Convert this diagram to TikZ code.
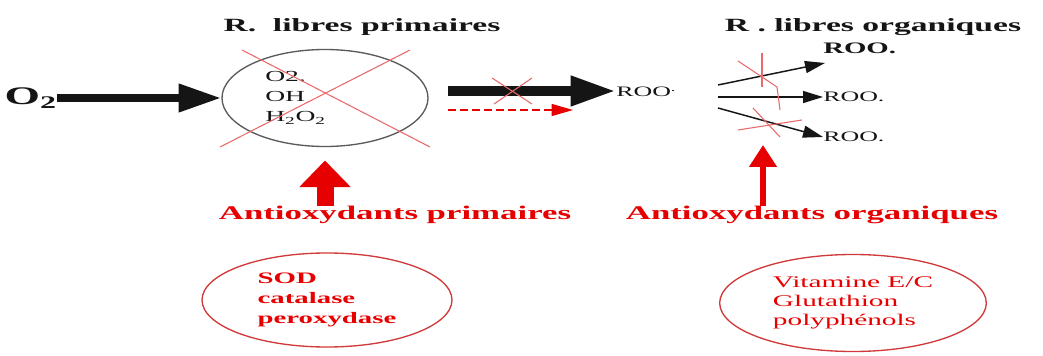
\documentclass[tikz,border=0pt]{standalone}
\usepackage{fontspec}
\setmainfont[FakeStretch=1.8]{Liberation Serif}
\usepackage{xcolor}
\usetikzlibrary{
  arrows.meta,
  shapes.geometric,
  positioning
}
\definecolor{arRed}{HTML}{E60000}
\definecolor{arCross}{HTML}{E86A6A}
\definecolor{arGray}{HTML}{5A5A5A}
\definecolor{arRing}{HTML}{D03A3A}
\definecolor{arInk}{HTML}{151515}
\tikzset{
  titletxt/.style={inner sep=0, text=arInk, font=\fontsize{14pt}{16pt}\selectfont\bfseries},
  bigtxt/.style={inner sep=0, text=arInk, font=\fontsize{19pt}{21pt}\selectfont\bfseries},
  smalltxt/.style={inner sep=0, text=arInk, align=left, font=\fontsize{11.5pt}{15pt}\selectfont},
  rootxt/.style={inner sep=0, text=arInk, font=\fontsize{10.8pt}{13pt}\selectfont},
  antitxt/.style={inner sep=0, text=arRed, font=\fontsize{14.5pt}{17pt}\selectfont\bfseries},
  radring/.style={draw=arGray, line width=1pt, ellipse, inner sep=0,
    minimum width=154.5pt, minimum height=72.75pt},
  ring/.style={draw=arRing, line width=1pt, ellipse, inner sep=0, text=arRed, align=left},
  fatblack/.style={-{Triangle[length=32pt, width=20pt]}, line width=6pt, arInk},
  thinblack/.style={-{Triangle[length=15pt, width=9pt]}, line width=1.1pt, arInk},
  xline/.style={draw=arCross, line width=0.8pt},
  reddash/.style={-{Triangle[length=16pt, width=9pt]}, dash pattern=on 6pt off 3pt, line width=0.8pt, arRed},
  redfat/.style={-{Triangle[length=20pt, width=37.5pt]}, line width=12.75pt, arRed},
  redthin/.style={-{Triangle[length=16.5pt, width=20pt]}, line width=5pt, arRed}
}

\begin{document}
\begin{tikzpicture}[x=0.75pt, y=-0.75pt]
  \useasboundingbox[fill=white] (0,0) rectangle (1043,356);

  % radicaux primaires
  \node[titletxt] (tprim) at (362,27) {R.\ \ libres primaires};
  \node[radring] (rp) at (325,98) {};
  \node[smalltxt, anchor=west] (rpin) at (265,98) {O2.\\OH\\H\textsubscript{2}O\textsubscript{2}};
  \node[bigtxt, anchor=east] (o2) at (57,98) {O\textsubscript{2}};
  \draw[fatblack] (o2) -- (rp);
  \draw[xline] (242,50) -- (430,147);
  \draw[xline] (410,50) -- (220,147);

  % passage vers ROO
  \coordinate (a2) at (448,91);
  \coordinate (d2) at (448,110);
  \coordinate (d2e) at (573,110);
  \node[rootxt, anchor=west] (roo) at (616,92) {ROO\textsuperscript{.}};
  \draw[fatblack, line width=7.5pt, -{Triangle[length=34pt, width=21pt]}] (a2) -- (roo.west |- a2);
  \draw[xline] (492,78) -- (532,104);
  \draw[xline] (494,104) -- (532,78);
  \draw[reddash] (d2) -- (d2e);

  % radicaux organiques
  \node[titletxt] (torg) at (873,27) {R . libres organiques};
  \node[titletxt, font=\fontsize{12pt}{14pt}\selectfont\bfseries, anchor=west] (rtop) at (823,48) {ROO.};
  \node[rootxt, anchor=west] (rmid) at (823,97) {ROO.};
  \node[rootxt, anchor=west] (rlow) at (823,137) {ROO.};
  \coordinate (s1) at (718,85);
  \coordinate (s2) at (718,97);
  \coordinate (s3) at (718,108);
  \coordinate (e1) at (825,63);
  \draw[thinblack] (s1) -- (e1);
  \draw[thinblack] (s2) -- (rmid.west);
  \draw[thinblack] (s3) -- (rlow.west);
  \draw[xline] (738,61) -- (777,87) -- (780,110);
  \draw[xline] (762,53) -- (762,87);
  \draw[xline] (753,108) -- (780,137);
  \draw[xline] (738,130) -- (802,120);

  % antioxydants
  \node[antitxt] (aprim) at (395,215) {Antioxydants primaires};
  \node[antitxt] (aorg) at (812,215) {Antioxydants organiques};
  \draw[redfat] (rp.south |- aprim.north) -- ([yshift=-10pt]rp.south);
  \coordinate (ro) at (763,145);
  \draw[redthin] (ro |- aorg.north) -- (ro);

  \node[ring, minimum width=187.5pt, minimum height=70.5pt,
    font=\fontsize{12pt}{15pt}\selectfont\bfseries] (enz) at (327,300) {SOD\\catalase\\peroxydase};
  \node[ring, minimum width=200pt, minimum height=72.75pt,
    font=\fontsize{12.2pt}{14.5pt}\selectfont] (vit) at (853,303) {Vitamine E/C\\Glutathion\\polyphénols};
\end{tikzpicture}
\end{document}
